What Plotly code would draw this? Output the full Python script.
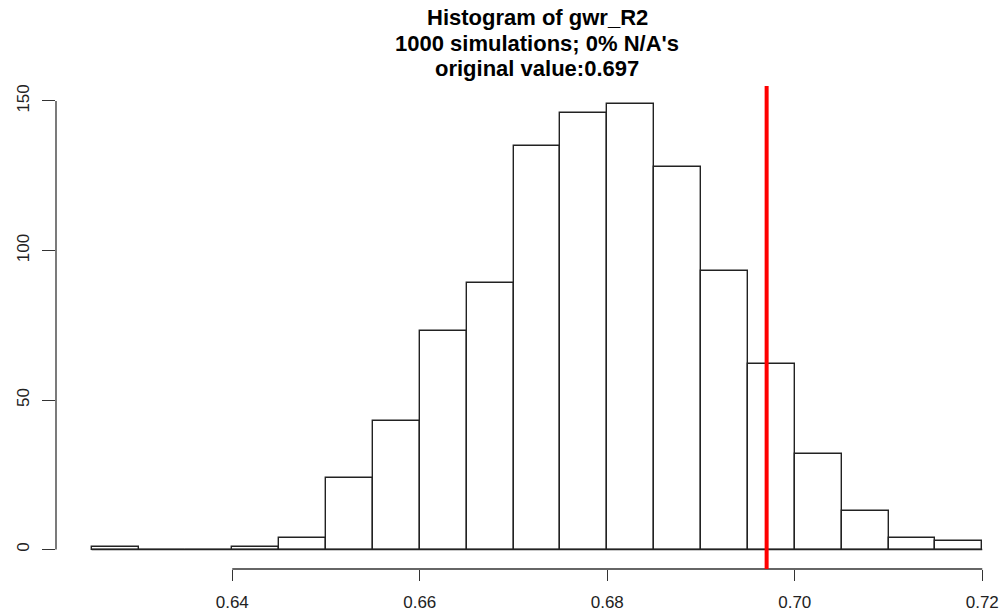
import plotly.graph_objects as go

# Histogram bins (width 0.005) and counts of simulated gwr_R2
bin_start = 0.625
bin_width = 0.005
counts = [1, 0, 0, 1, 4, 24, 43, 73, 89, 135, 146, 149, 128, 93, 62, 32, 13, 4, 3]
original_value = 0.697
n_sim = 1000

x_ticks = [0.64, 0.66, 0.68, 0.70, 0.72]
x_tick_text = ["0.64", "0.66", "0.68", "0.70", "0.72"]
y_ticks = [0, 50, 100, 150]

centers = [bin_start + bin_width * (i + 0.5) for i in range(len(counts))]
edges_lo = bin_start
edges_hi = bin_start + bin_width * len(counts)

FONT = "Liberation Sans, Arial, sans-serif"
M_L, M_R, M_T, M_B = 56, 0, 86, 43
W, H = 1002, 612

fig = go.Figure()
fig.add_trace(go.Bar(
    x=centers, y=counts, width=bin_width,
    marker=dict(color="white", line=dict(color="#222222", width=1.4)),
    hoverinfo="x+y", showlegend=False,
))

# baseline under the bars (empty bins draw as a flat line)
fig.add_shape(type="line", x0=edges_lo, x1=edges_hi, y0=0, y1=0,
              xref="x", yref="y", line=dict(color="#222222", width=1.4))

# R-style detached axis lines spanning only the tick range
fig.add_shape(type="line", x0=x_ticks[0], x1=x_ticks[-1], y0=0, y1=0,
              xref="x", yref="paper", line=dict(color="#333333", width=1.3))
fig.add_shape(type="line", x0=0, x1=0, y0=y_ticks[0], y1=y_ticks[-1],
              xref="paper", yref="y", line=dict(color="#333333", width=1.3))

# observed value
fig.add_shape(type="line", x0=original_value, x1=original_value, y0=0, y1=1,
              xref="x", yref="paper", line=dict(color="#ff0000", width=4))

# three-line main title, centred over the plotting region
title_lines = [
    "Histogram of gwr_R2",
    f"{n_sim} simulations; 0% N/A's",
    f"original value:{original_value}",
]
plot_h = H - M_T - M_B
for i, t in enumerate(title_lines):
    px_y = 17 + 26 * i
    fig.add_annotation(
        text=f"<b>{t}</b>",
        x=(537 - M_L) / (W - M_L - M_R), xref="paper",
        y=(H - M_B - px_y) / plot_h, yref="paper",
        xanchor="center", yanchor="middle", showarrow=False,
        font=dict(family=FONT, size=22, color="black"),
    )

# axis ranges reproduce R's padding around the data
fig.update_xaxes(
    range=[0.62120, 0.62120 + (W - M_L - M_R) / 9375],
    tickvals=x_ticks, ticktext=x_tick_text,
    ticks="outside", ticklen=11, tickwidth=1.3, tickcolor="#333333",
    ticklabelstandoff=7, automargin=False,
    showline=False, showgrid=False, zeroline=False,
    tickfont=dict(family=FONT, size=17, color="#222222"),
)
fig.update_yaxes(
    range=[-6.5, 155.0],
    tickvals=y_ticks, ticks="outside", ticklen=13, tickwidth=1.3,
    tickcolor="#333333", tickangle=-90, ticklabelstandoff=6,
    automargin=False,
    showline=False, showgrid=False, zeroline=False,
    tickfont=dict(family=FONT, size=17, color="#222222"),
)

fig.update_layout(
    width=W, height=H,
    margin=dict(l=M_L, r=M_R, t=M_T, b=M_B, autoexpand=False),
    paper_bgcolor="white", plot_bgcolor="white",
    bargap=0, showlegend=False,
)

fig.write_html("out.html")
